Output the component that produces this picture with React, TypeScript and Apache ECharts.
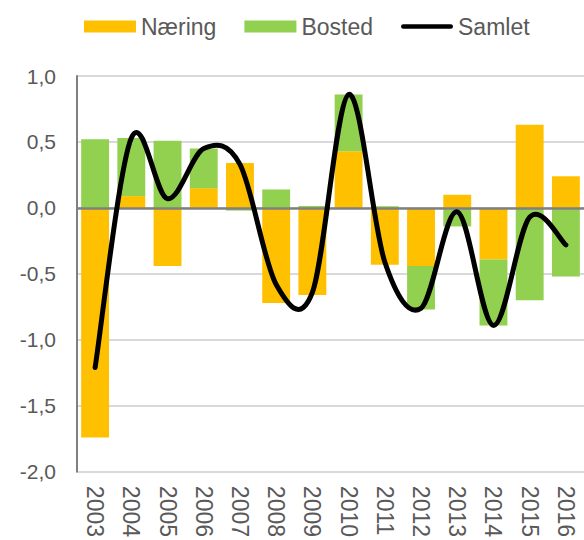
import React, { useEffect, useRef } from "react";
import * as echarts from "echarts";

const years = ["2003", "2004", "2005", "2006", "2007", "2008", "2009", "2010", "2011", "2012", "2013", "2014", "2015", "2016"];
const naering = [-1.74, 0.09, -0.44, 0.15, 0.34, -0.72, -0.66, 0.43, -0.43, -0.44, 0.10, -0.39, 0.63, 0.24];
const bosted = [0.52, 0.44, 0.51, 0.30, -0.02, 0.14, 0.015, 0.43, 0.013, -0.33, -0.14, -0.50, -0.70, -0.52];
const samlet = [-1.21, 0.53, 0.07, 0.45, 0.33, -0.58, -0.64, 0.86, -0.41, -0.76, -0.03, -0.89, -0.07, -0.28];
const yTicks = { min: -2, max: 1, interval: 0.5 };

const FONT = "'Liberation Sans', Arial, sans-serif";

export default function App() {
  const ref = useRef<HTMLDivElement>(null);
  useEffect(() => {
    if (!ref.current) return;
    const chart = echarts.init(ref.current, null, { renderer: "svg" });
    chart.setOption({
      animation: false,
      textStyle: { fontFamily: FONT },
      legend: {
        left: 79,
        top: 10,
        itemWidth: 52,
        itemHeight: 12,
        itemGap: 28,
        textStyle: { fontSize: 23, color: "#595959", fontFamily: FONT },
        data: [
          { name: "Næring", icon: "rect" },
          { name: "Bosted", icon: "rect" },
          {
            name: "Samlet",
            icon: "path://M2.5,0 L53.5,0 A2.5,2.5 0 0 1 53.5,5 L2.5,5 A2.5,2.5 0 0 1 2.5,0 Z",
          },
        ],
      },
      grid: { left: 77, top: 76, width: 511, height: 398, containLabel: false },
      xAxis: {
        type: "category",
        data: years,
        axisLine: { show: false },
        axisTick: { show: false },
        axisLabel: { rotate: -90, fontSize: 23, color: "#595959", margin: 14, fontFamily: FONT },
      },
      yAxis: {
        type: "value",
        min: yTicks.min,
        max: yTicks.max,
        interval: yTicks.interval,
        axisLine: { show: true, lineStyle: { color: "#808080", width: 2 } },
        axisTick: { show: false },
        splitLine: { lineStyle: { color: "#D9D9D9", width: 2 } },
        axisLabel: {
          fontSize: 21,
          color: "#595959",
          margin: 21,
          fontFamily: FONT,
          formatter: (v: number) => v.toFixed(1).replace(".", ","),
        },
      },
      series: [
        {
          name: "Næring",
          type: "bar",
          stack: "a",
          data: naering,
          barCategoryGap: "23%",
          itemStyle: { color: "#FFC000" },
          markLine: {
            silent: true,
            symbol: "none",
            label: { show: false },
            lineStyle: { color: "#808080", width: 2.5, type: "solid" },
            data: [{ yAxis: 0 }],
          },
        },
        {
          name: "Bosted",
          type: "bar",
          stack: "a",
          data: bosted,
          barCategoryGap: "23%",
          itemStyle: { color: "#92D050" },
        },
        {
          name: "Samlet",
          type: "custom",
          data: samlet.map((v, i) => [i, v]),
          itemStyle: { color: "#000000" },
          z: 5,
          renderItem: (params: any, api: any) => {
            if (params.dataIndex !== 0) return null;
            const pts = samlet.map((v, i) => api.coord([i, v]));
            const n = pts.length;
            let d = `M${pts[0][0]},${pts[0][1]}`;
            for (let i = 0; i < n - 1; i++) {
              const p0 = pts[Math.max(i - 1, 0)];
              const p1 = pts[i];
              const p2 = pts[i + 1];
              const p3 = pts[Math.min(i + 2, n - 1)];
              const c1x = p1[0] + (p2[0] - p0[0]) / 6;
              const c1y = p1[1] + (p2[1] - p0[1]) / 6;
              const c2x = p2[0] - (p3[0] - p1[0]) / 6;
              const c2y = p2[1] - (p3[1] - p1[1]) / 6;
              d += ` C${c1x},${c1y} ${c2x},${c2y} ${p2[0]},${p2[1]}`;
            }
            return {
              type: "path",
              shape: { pathData: d },
              style: {
                fill: "none",
                stroke: "#000000",
                lineWidth: 5,
                lineCap: "round",
                lineJoin: "round",
              },
            };
          },
        },
      ],
    });
    return () => chart.dispose();
  }, []);
  return <div ref={ref} style={{ width: 584, height: 540, position: "absolute", left: 0, top: 0 }} />;
}
